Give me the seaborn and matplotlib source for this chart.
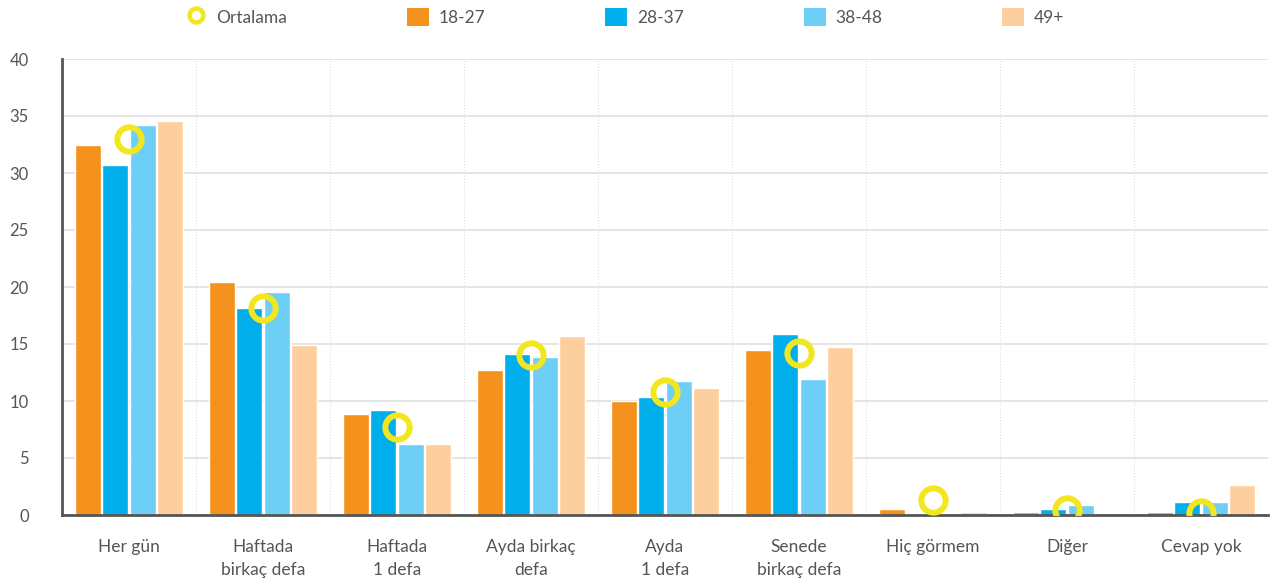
import matplotlib
matplotlib.use("Agg")
import matplotlib.pyplot as plt
import seaborn as sns
import pandas as pd
from matplotlib.lines import Line2D
from matplotlib.patches import Patch

categories = ["Her gün", "Haftada\nbirkaç defa", "Haftada\n1 defa", "Ayda birkaç\ndefa",
              "Ayda\n1 defa", "Senede\nbirkaç defa", "Hiç görmem", "Diğer", "Cevap yok"]
series = ["18-27", "28-37", "38-48", "49+"]
v_18_27 = [32.5, 20.4, 8.9, 12.7, 10.0, 14.5, 0.5, 0.3, 0.3]
v_28_37 = [30.7, 18.2, 9.2, 14.1, 10.35, 15.9, 0.05, 0.5, 1.1]
v_38_48 = [34.2, 19.6, 6.2, 13.9, 11.75, 11.9, 0.0, 0.9, 1.1]
v_49 = [34.6, 14.9, 6.2, 15.7, 11.1, 14.7, 0.3, 0.0, 2.6]
ortalama = [33.0, 18.2, 7.7, 14.0, 10.8, 14.2, 1.3, 0.4, 0.2]
yticks = [0, 5, 10, 15, 20, 25, 30, 35, 40]

colors = ["#F5921E", "#00AEEB", "#6DCFF6", "#FDCF9E"]
yellow = "#F2E71E"
txt = "#555555"

rows = []
for s, vals in zip(series, [v_18_27, v_28_37, v_38_48, v_49]):
    for c, v in zip(categories, vals):
        rows.append({"cat": c, "grp": s, "val": v})
df = pd.DataFrame(rows)

sns.set_theme(style="white")
plt.rcParams["font.family"] = ["Lato", "DejaVu Sans"]

fig = plt.figure(figsize=(12.77, 5.87), dpi=100)
ax = fig.add_axes([62 / 1277, 1 - 515 / 587, (1268 - 62) / 1277, (515 - 59) / 587])

sns.barplot(data=df, x="cat", y="val", hue="grp", order=categories, hue_order=series,
            palette=colors, saturation=1, width=0.82, gap=0.07, ax=ax, legend=False,
            errorbar=None)
sns.pointplot(x=categories, y=ortalama, order=categories, ax=ax, linestyle="none",
              markers="o", color=yellow, markersize=17.5, markerfacecolor="none",
              markeredgewidth=4.3, errorbar=None, zorder=5)

ax.set_ylim(0, 40)
ax.set_xlim(-0.5, len(categories) - 0.5)
ax.set_yticks(yticks)
ax.set_xlabel("")
ax.set_ylabel("")
ax.set_xticks(range(len(categories)))
ax.set_xticklabels(categories, linespacing=1.6)
ax.set_xticks([i - 0.5 for i in range(len(categories) + 1)], minor=True)

ax.grid(axis="y", which="major", color="#e3e3e3", linewidth=1.3)
ax.grid(axis="x", which="minor", color="#dddddd", linewidth=0.8, linestyle=":")
ax.grid(axis="x", which="major", visible=False)
ax.set_axisbelow(True)

for side in ["top", "right"]:
    ax.spines[side].set_visible(False)
for side in ["left", "bottom"]:
    ax.spines[side].set_color(txt)
    ax.spines[side].set_linewidth(2)

ax.tick_params(axis="x", which="major", length=0, pad=17, labelsize=12.5, labelcolor=txt)
ax.tick_params(axis="x", which="minor", length=8, width=2, direction="inout", color=txt)
ax.tick_params(axis="y", which="both", length=0, pad=24, labelsize=12, labelcolor=txt)

handles = [Line2D([0], [0], marker="o", linestyle="none", color=yellow,
                  markerfacecolor="none", markersize=10, markeredgewidth=3.2)]
handles += [Patch(facecolor=c, edgecolor="none") for c in colors]
labels = ["Ortalama"] + series
fig.legend(handles, labels, loc="center", bbox_to_anchor=(0.489, 0.971), ncol=5,
           frameon=False, fontsize=12.5, handlelength=1.27, handleheight=1.27,
           handletextpad=0.55, columnspacing=6.9, labelcolor=txt)

fig.savefig("out.png", dpi=100)
